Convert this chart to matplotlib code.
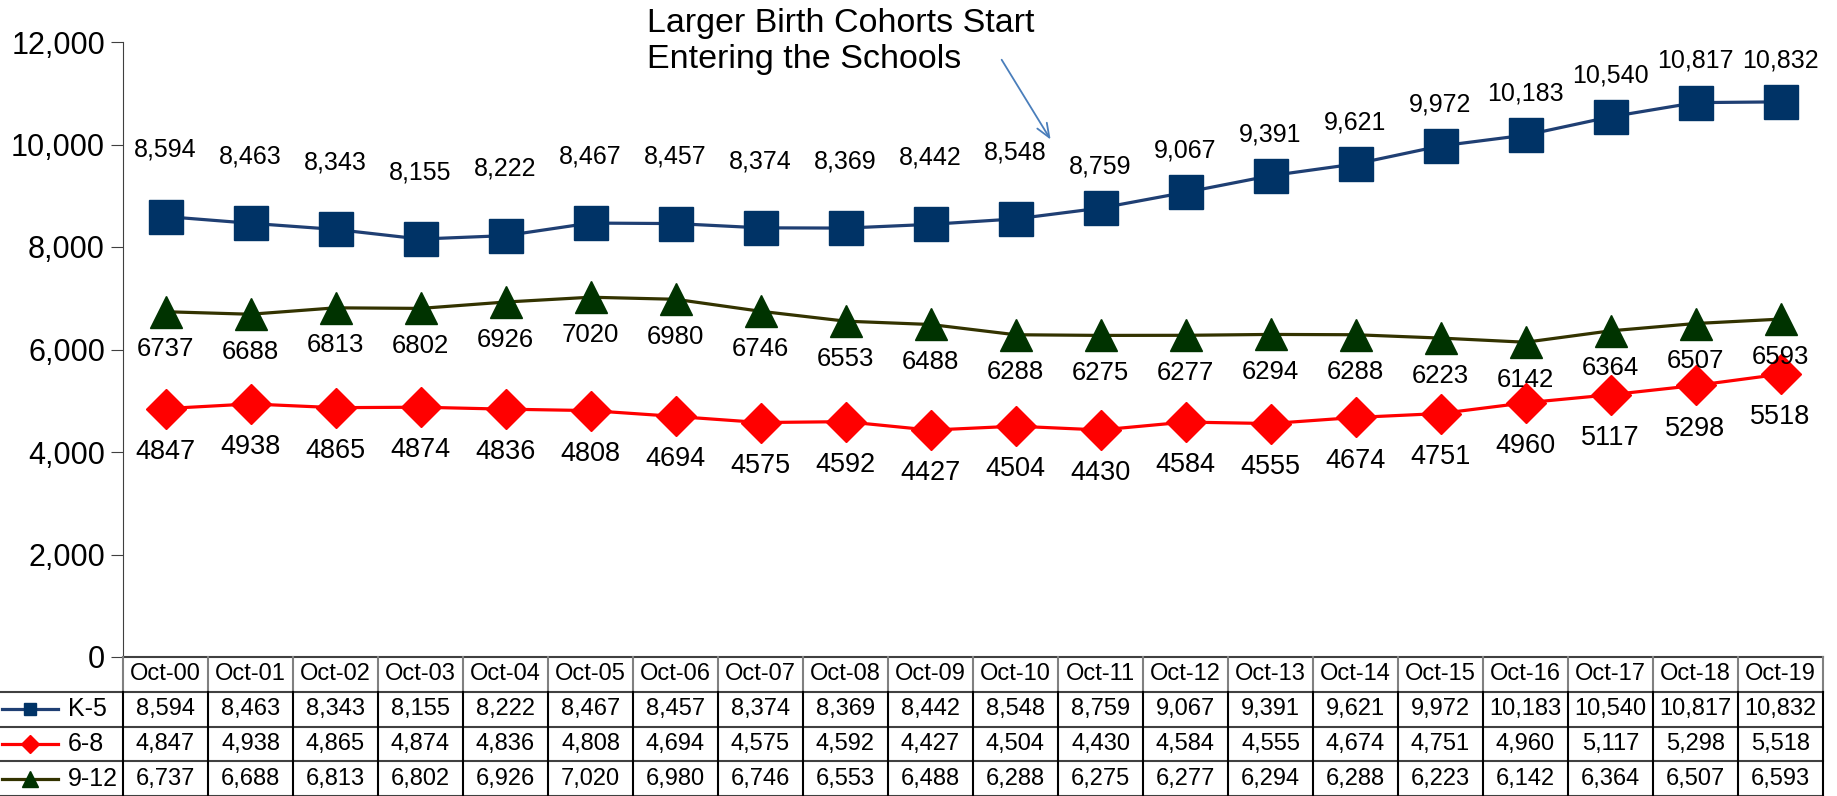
import numpy as np
import matplotlib
matplotlib.use("Agg")
import matplotlib.pyplot as plt
from matplotlib.lines import Line2D

plt.rcParams['font.family'] = ['Liberation Sans', 'DejaVu Sans']

# === data ===
years = ['Oct-00', 'Oct-01', 'Oct-02', 'Oct-03', 'Oct-04', 'Oct-05', 'Oct-06',
         'Oct-07', 'Oct-08', 'Oct-09', 'Oct-10', 'Oct-11', 'Oct-12', 'Oct-13',
         'Oct-14', 'Oct-15', 'Oct-16', 'Oct-17', 'Oct-18', 'Oct-19']
k5 = [8594, 8463, 8343, 8155, 8222, 8467, 8457, 8374, 8369, 8442,
      8548, 8759, 9067, 9391, 9621, 9972, 10183, 10540, 10817, 10832]
g68 = [4847, 4938, 4865, 4874, 4836, 4808, 4694, 4575, 4592, 4427,
       4504, 4430, 4584, 4555, 4674, 4751, 4960, 5117, 5298, 5518]
g912 = [6737, 6688, 6813, 6802, 6926, 7020, 6980, 6746, 6553, 6488,
        6288, 6275, 6277, 6294, 6288, 6223, 6142, 6364, 6507, 6593]
series_names = ['K-5', '6-8', '9-12']

W, H = 1837, 796
fig = plt.figure(figsize=(W / 100, H / 100), dpi=100)

left_px, right_px, top_px, zero_px = 123, 1823, 42, 657
ax = fig.add_axes([left_px / W, 1 - zero_px / H, (right_px - left_px) / W, (zero_px - top_px) / H])
x = np.arange(len(years))

# styles
navy, navy_line = '#003366', '#1f3f73'
red = '#ff0000'
olive_line, olive_mk = '#333300', '#003300'

ax.plot(x, k5, color=navy_line, lw=2.3, marker='s', ms=24, mfc=navy, mec=navy, zorder=3)
ax.plot(x, g68, color=red, lw=2.3, marker='D', ms=20, mfc=red, mec=red, zorder=3)
ax.plot(x, g912, color=olive_line, lw=2.3, marker='^', ms=23, mfc=olive_mk, mec=olive_mk, zorder=3)

ax.set_xlim(-0.5, len(years) - 0.5)
ax.set_ylim(0, 12000)
ax.set_yticks(np.arange(0, 12001, 2000))
ax.set_yticklabels([f'{v:,}' for v in range(0, 12001, 2000)], fontsize=22)
ax.set_xticks([])
for s in ['top', 'right', 'bottom']:
    ax.spines[s].set_visible(False)
ax.spines['left'].set_color('#404040')
ax.tick_params(axis='y', direction='out', length=9, color='#404040', pad=4)

# data labels
k5_off = [48] * 11 + [30] * 9
for i in range(len(years)):
    ax.annotate(f'{k5[i]:,}', (x[i], k5[i]), xytext=(0, k5_off[i]), textcoords='offset points',
                ha='center', va='center', fontsize=18)
    ax.annotate(f'{g68[i]}', (x[i], g68[i]), xytext=(0, -31), textcoords='offset points',
                ha='center', va='center', fontsize=19.5)
    ax.annotate(f'{g912[i]}', (x[i], g912[i]), xytext=(0, -27), textcoords='offset points',
                ha='center', va='center', fontsize=18.5)

# annotation
fig.text(647 / W, 1 - 8 / H, 'Larger Birth Cohorts Start\nEntering the Schools',
         ha='left', va='top', fontsize=24.5, linespacing=1.2)
ax.annotate('', xy=(10.43, 10050), xytext=(9.82, 11700), annotation_clip=False,
            arrowprops=dict(arrowstyle='->,head_length=1.0,head_width=0.4', color='#4a7ebb', lw=1.3))

# === data table ===
tax = fig.add_axes([left_px / W, 0, (right_px - left_px) / W, (H - zero_px) / H])
tax.set_xlim(-0.5, len(years) - 0.5)
tax.set_ylim(0, 4)
tax.axis('off')
col_w = (right_px - left_px) / len(years)   # px per column
lx0 = -0.5 - left_px / col_w                # left edge of figure in table coords

grid_c = '#404040'
# horizontal lines
tax.plot([-0.5, len(years) - 0.5], [4, 4], color=grid_c, lw=1.5, clip_on=False)
for yy in [3, 2, 1, 0]:
    tax.plot([lx0, len(years) - 0.5], [yy, yy], color=grid_c, lw=1.5, clip_on=False)
# vertical lines
for i in range(len(years) + 1):
    xx = i - 0.5
    tax.plot([xx, xx], [3, 4], color='#808080', lw=1.5, clip_on=False)
    tax.plot([xx, xx], [0, 3], color='black', lw=1.5, clip_on=False)

for i, yr in enumerate(years):
    tax.text(i, 3.5, yr, ha='center', va='center', fontsize=17)
    tax.text(i, 2.5, f'{k5[i]:,}', ha='center', va='center', fontsize=17)
    tax.text(i, 1.5, f'{g68[i]:,}', ha='center', va='center', fontsize=17)
    tax.text(i, 0.5, f'{g912[i]:,}', ha='center', va='center', fontsize=17)

# legend keys in the row headers
styles = [(navy_line, 's', navy, 9), (red, 'D', red, 9), (olive_line, '^', olive_mk, 11)]
for r, (name, (lc, mk, mc, msz)) in enumerate(zip(series_names, styles)):
    yy = 2.5 - r
    x1, x2 = lx0 + 2 / col_w, lx0 + 58 / col_w
    tax.add_line(Line2D([x1, x2], [yy, yy], color=lc, lw=2.3, clip_on=False))
    tax.plot([(x1 + x2) / 2], [yy], marker=mk, ms=msz, mfc=mc, mec=mc, clip_on=False)
    tax.text(lx0 + 68 / col_w, yy, name, ha='left', va='center', fontsize=18)

fig.savefig('out.png', dpi=100)
